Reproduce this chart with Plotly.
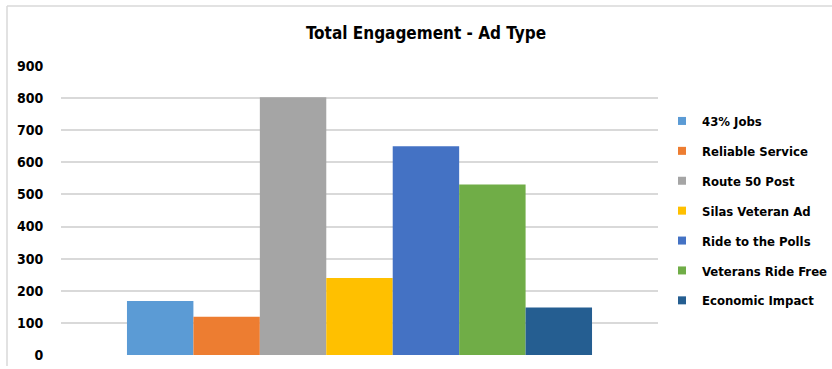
import plotly.graph_objects as go

# Engagement totals per ad type
ad_types = ["43% Jobs", "Reliable Service", "Route 50 Post", "Silas Veteran Ad",
            "Ride to the Polls", "Veterans Ride Free", "Economic Impact"]
engagement = [168, 119, 803, 240, 650, 531, 148]
colors = ["#5B9BD5", "#ED7D31", "#A5A5A5", "#FFC000", "#4472C4", "#70AD47", "#255E91"]
y_ticks = [0, 100, 200, 300, 400, 500, 600, 700, 800, 900]

FONT = "Liberation Sans Narrow, DejaVu Sans Condensed, Arial Narrow, sans-serif"

W, H = 832, 369
L, R, T, B = 61, 174, 66, 14
pw, ph = W - L - R, H - T - B

fig = go.Figure()
for name, val, col in zip(ad_types, engagement, colors):
    fig.add_trace(go.Bar(
        x=["Ad Type"], y=[val], name=name, marker_color=col,
        marker_line_width=0, legendgroup=name, showlegend=False,
    ))
    # small square legend swatch
    fig.add_trace(go.Scatter(
        x=[None], y=[None], mode="markers", name=f"<b>{name}</b>",
        marker=dict(symbol="square", size=8, color=col),
        legendgroup=name, showlegend=True,
    ))

def px_x(x):
    return (x - L) / pw

def px_y(y):
    return (H - B - y) / ph

# light chart-area border
border = dict(color="#D9D9D9", width=1.5)
fig.add_shape(type="line", xref="paper", yref="paper",
              x0=px_x(7), x1=px_x(W + 5), y0=px_y(6), y1=px_y(6), line=border)
fig.add_shape(type="line", xref="paper", yref="paper",
              x0=px_x(7), x1=px_x(7), y0=px_y(6), y1=px_y(366), line=border)

fig.update_layout(
    width=W, height=H,
    margin=dict(l=L, r=R, t=T, b=B, pad=0, autoexpand=False),
    paper_bgcolor="white", plot_bgcolor="white",
    barmode="group", bargap=0.221, bargroupgap=0,
    title=dict(text="<b>Total Engagement - Ad Type</b>", xref="container",
               x=426 / W, xanchor="center",
               y=1 - 33 / H, yanchor="middle",
               font=dict(family=FONT, size=17, color="#000000")),
    font=dict(family=FONT, color="#000000"),
    xaxis=dict(showticklabels=False, showgrid=False, zeroline=False, showline=False,
               range=[-0.5, 0.5]),
    yaxis=dict(range=[0, 900], tickvals=y_ticks,
               ticktext=[f"<b>{v}</b>" for v in y_ticks],
               showgrid=True, gridcolor="#D9D9D9", gridwidth=1.5,
               zeroline=False, showline=False,
               ticks="outside", ticklen=14, tickcolor="rgba(0,0,0,0)",
               tickfont=dict(family=FONT, size=14, color="#000000")),
    legend=dict(x=px_x(662), xanchor="left", y=px_y(211), yanchor="middle",
                font=dict(family=FONT, size=13, color="#000000"),
                itemwidth=30, tracegroupgap=10, traceorder="grouped",
                bgcolor="rgba(0,0,0,0)"),
    showlegend=True,
)

fig.write_html("out.html")
